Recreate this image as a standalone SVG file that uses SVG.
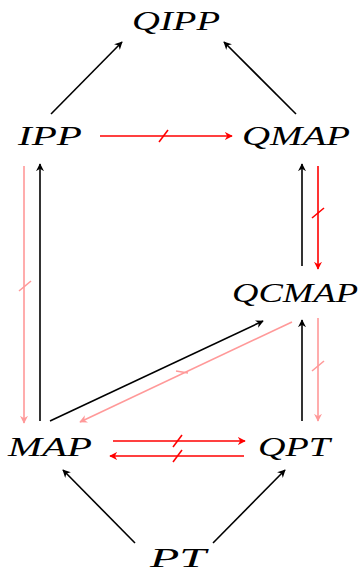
<svg xmlns="http://www.w3.org/2000/svg" width="362" height="577" viewBox="0 0 362 577">
  <style>
    .lbl { font-family: "Liberation Serif", "DejaVu Serif", serif; font-style: italic; font-size: 28px; fill: #000; text-anchor: middle; }
    .blk { stroke: #000; stroke-width: 1.6; fill: none; }
    .red { stroke: #ff0000; stroke-width: 1.6; fill: none; }
    .pnk { stroke: #ff9999; stroke-width: 1.6; fill: none; }
  </style>
  <defs>
    <marker id="ah-blk" viewBox="0 0 10 10" refX="9" refY="5" markerWidth="8" markerHeight="8" orient="auto" markerUnits="userSpaceOnUse">
      <path d="M0,0 L10,5 L0,10 L3,5 Z" fill="#000"/>
    </marker>
    <marker id="ah-red" viewBox="0 0 10 10" refX="9" refY="5" markerWidth="8" markerHeight="8" orient="auto" markerUnits="userSpaceOnUse">
      <path d="M0,0 L10,5 L0,10 L3,5 Z" fill="#ff0000"/>
    </marker>
    <marker id="ah-pnk" viewBox="0 0 10 10" refX="9" refY="5" markerWidth="8" markerHeight="8" orient="auto" markerUnits="userSpaceOnUse">
      <path d="M0,0 L10,5 L0,10 L3,5 Z" fill="#ff9999"/>
    </marker>
  </defs>

  <!-- connectors -->
  <g id="connectors">
    <!-- to QIPP -->
    <line class="blk" x1="51" y1="114" x2="122" y2="42" marker-end="url(#ah-blk)"/>
    <line class="blk" x1="296" y1="114" x2="224" y2="42" marker-end="url(#ah-blk)"/>
    <!-- IPP -> QMAP (red, struck) -->
    <line class="red" x1="100" y1="136" x2="232" y2="136" marker-end="url(#ah-red)"/>
    <line class="red" x1="159" y1="142" x2="168" y2="130"/>
    <!-- QCMAP -> QMAP / QMAP -> QCMAP -->
    <line class="blk" x1="302" y1="266" x2="302" y2="164" marker-end="url(#ah-blk)"/>
    <line class="red" x1="318" y1="166" x2="318" y2="269" marker-end="url(#ah-red)"/>
    <line class="red" x1="312" y1="218" x2="324" y2="208"/>
    <!-- QPT -> QCMAP / QCMAP -> QPT -->
    <line class="blk" x1="302" y1="421" x2="302" y2="320" marker-end="url(#ah-blk)"/>
    <line class="pnk" x1="318" y1="318" x2="318" y2="421" marker-end="url(#ah-pnk)"/>
    <line class="pnk" x1="312" y1="371" x2="324" y2="361"/>
    <!-- left column: IPP -> MAP (pink), MAP -> IPP -->
    <line class="pnk" x1="24" y1="166" x2="24" y2="423" marker-end="url(#ah-pnk)"/>
    <line class="pnk" x1="19" y1="291" x2="31" y2="281"/>
    <line class="blk" x1="40" y1="421" x2="40" y2="164" marker-end="url(#ah-blk)"/>
    <!-- diagonal MAP -> QCMAP / QCMAP -> MAP -->
    <line class="blk" x1="50" y1="421" x2="263" y2="321" marker-end="url(#ah-blk)"/>
    <line class="pnk" x1="292" y1="322" x2="80" y2="422" marker-end="url(#ah-pnk)"/>
    <line class="pnk" x1="176" y1="371" x2="188" y2="373"/>
    <!-- MAP <-> QPT (red, struck) -->
    <line class="red" x1="113" y1="441" x2="245" y2="441" marker-end="url(#ah-red)"/>
    <line class="red" x1="173" y1="447" x2="182" y2="435"/>
    <line class="red" x1="244" y1="456" x2="110" y2="456" marker-end="url(#ah-red)"/>
    <line class="red" x1="173" y1="462" x2="182" y2="450"/>
    <!-- from PT -->
    <line class="blk" x1="135" y1="543" x2="63" y2="470" marker-end="url(#ah-blk)"/>
    <line class="blk" x1="213" y1="543" x2="285" y2="470" marker-end="url(#ah-blk)"/>
  </g>

  <!-- nodes -->
  <g id="node-QIPP"><text class="lbl" x="176" y="30" textLength="88" lengthAdjust="spacingAndGlyphs">QIPP</text></g>
  <g id="node-IPP"><text class="lbl" x="50" y="145" textLength="64" lengthAdjust="spacingAndGlyphs">IPP</text></g>
  <g id="node-QMAP"><text class="lbl" x="296" y="145" textLength="108" lengthAdjust="spacingAndGlyphs">QMAP</text></g>
  <g id="node-QCMAP"><text class="lbl" x="295" y="302" textLength="126" lengthAdjust="spacingAndGlyphs">QCMAP</text></g>
  <g id="node-MAP"><text class="lbl" x="50" y="456" textLength="84" lengthAdjust="spacingAndGlyphs">MAP</text></g>
  <g id="node-QPT"><text class="lbl" x="294" y="456" textLength="72" lengthAdjust="spacingAndGlyphs">QPT</text></g>
  <g id="node-PT"><text class="lbl" x="178" y="567" textLength="56" lengthAdjust="spacingAndGlyphs">PT</text></g>
</svg>
